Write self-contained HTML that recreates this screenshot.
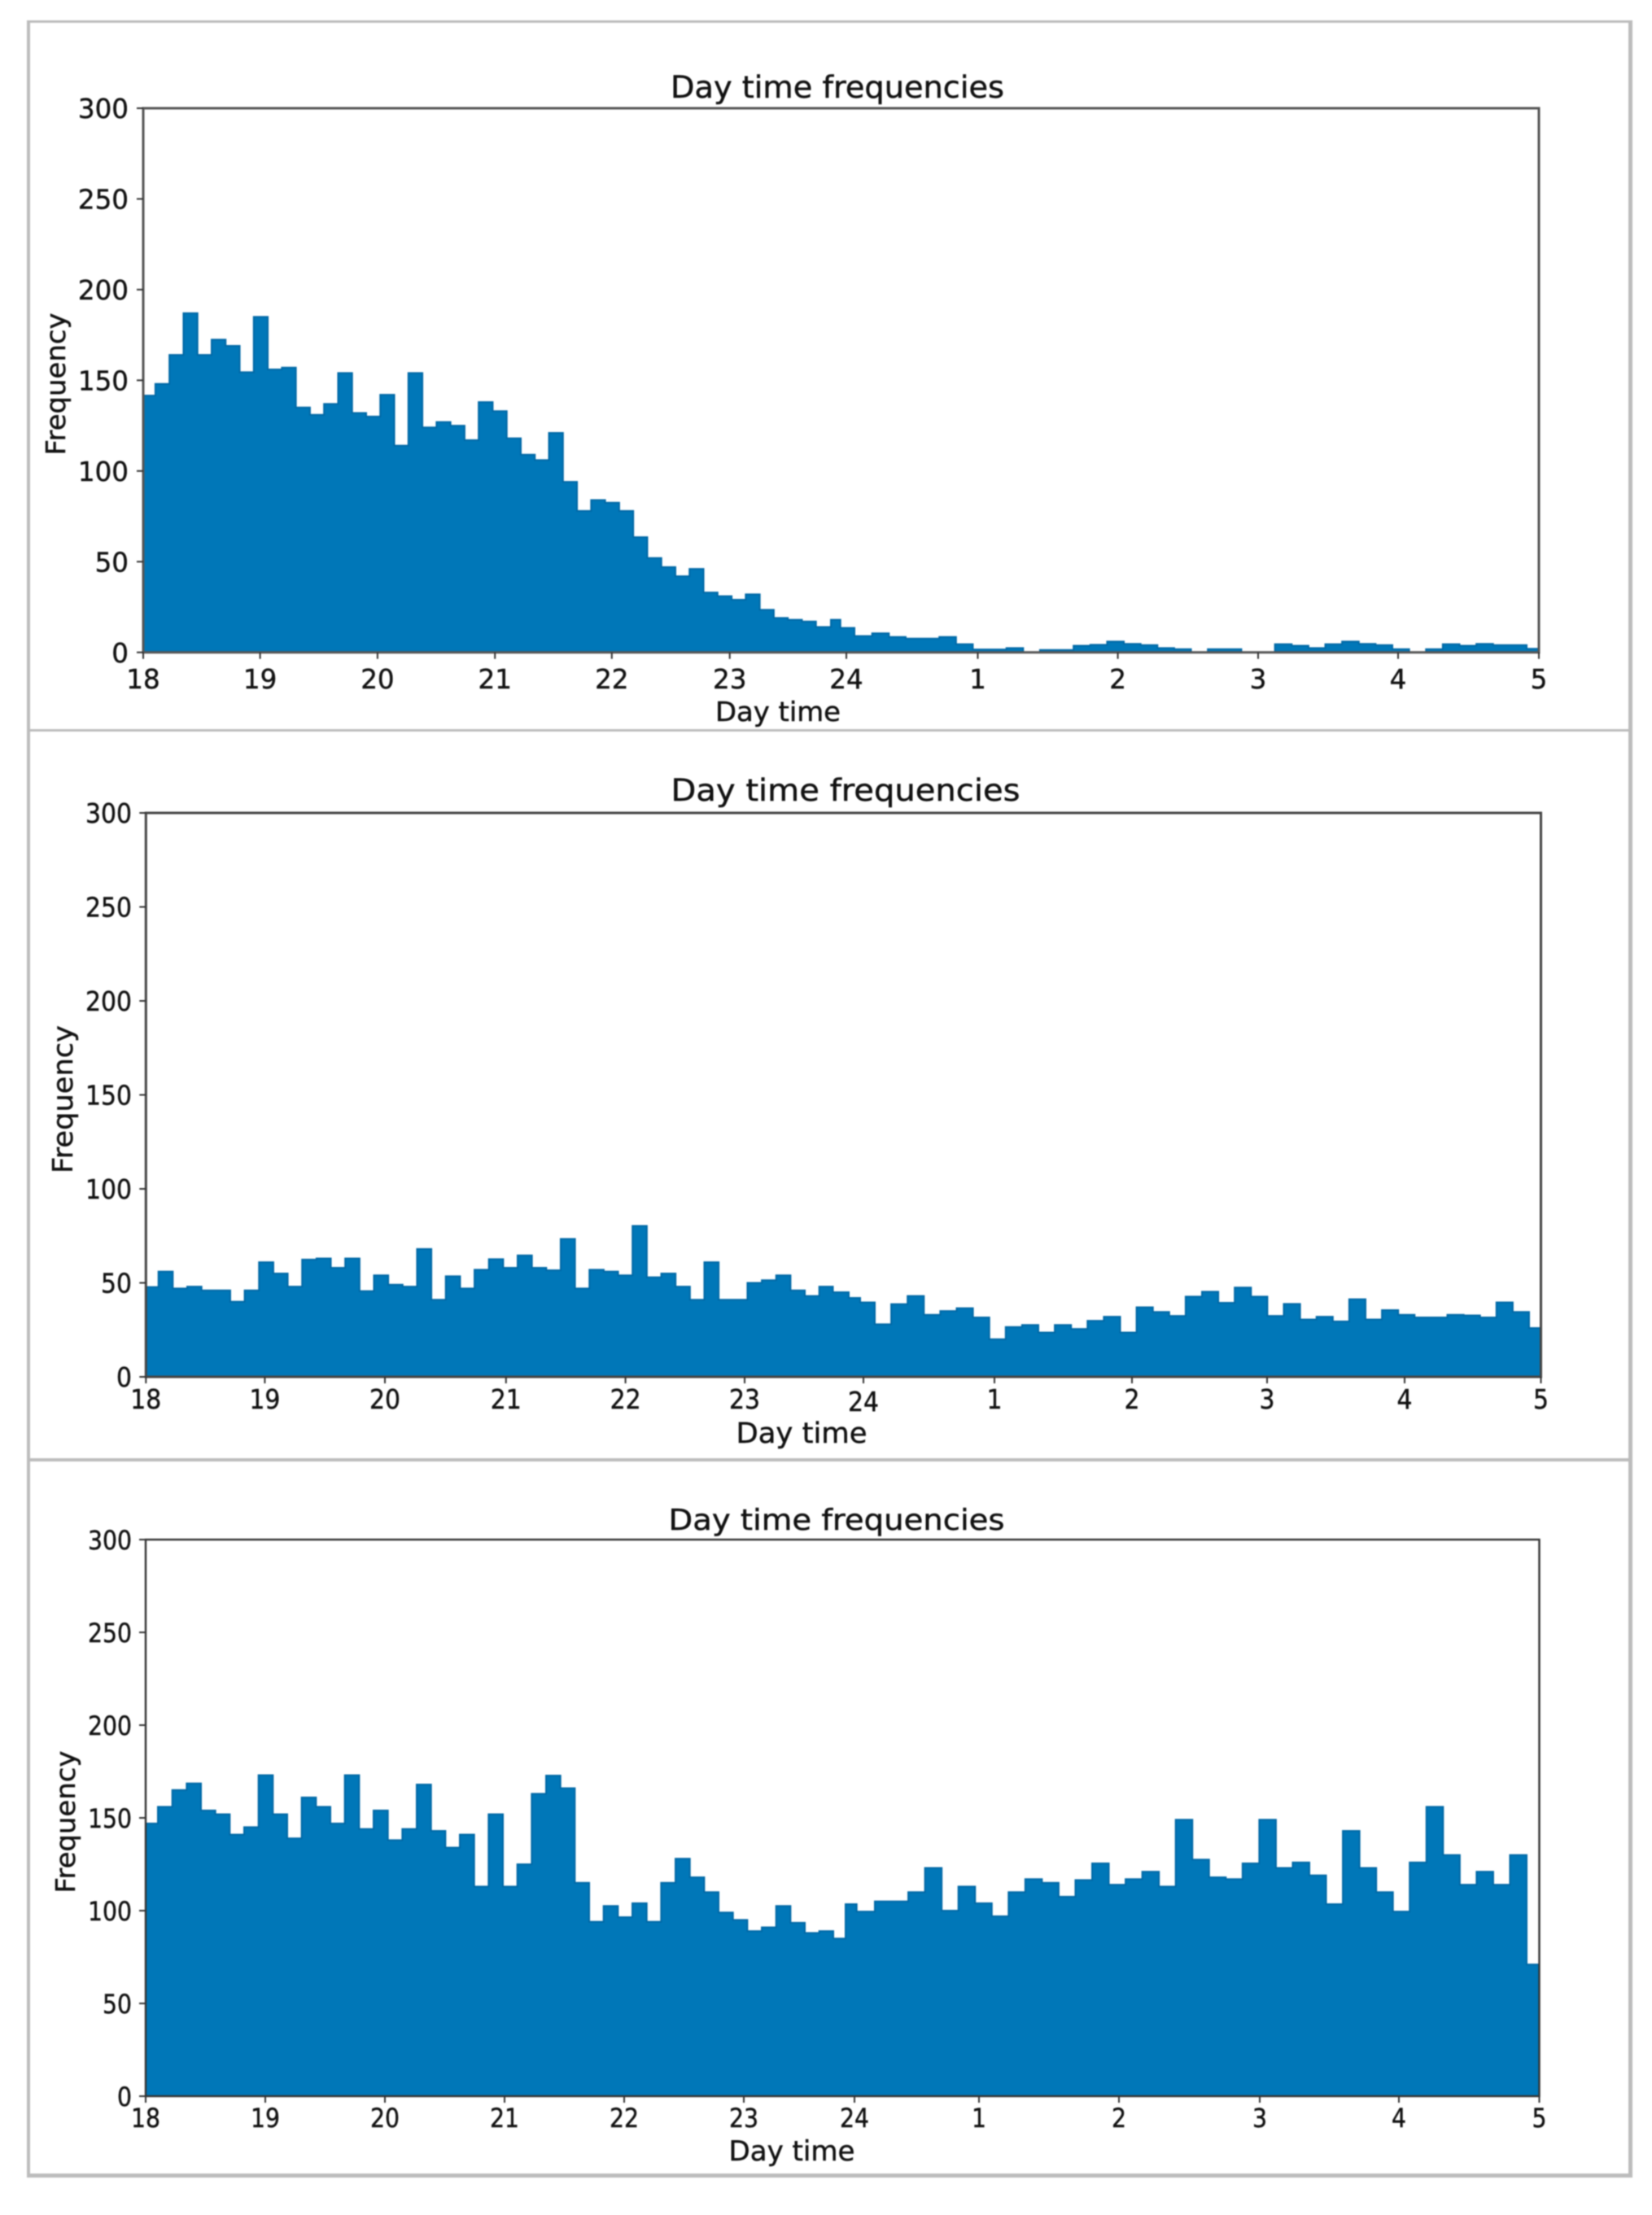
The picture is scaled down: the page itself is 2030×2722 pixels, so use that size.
<!DOCTYPE html>
<html lang="en">
<head>
<meta charset="utf-8">
<title>Day time frequencies</title>
<style>
  html, body { margin: 0; padding: 0; background: #fff; }
  body { width: 2030px; height: 2722px; overflow: hidden; }
  svg { display: block; filter: blur(0.7px); }
  text { font-family: "DejaVu Sans", "Liberation Sans", sans-serif; fill: #111; stroke: #111; stroke-width: 0.45px; }
</style>
</head>
<body>
<svg id="figure" xmlns="http://www.w3.org/2000/svg" width="2030" height="2722" viewBox="0 0 2030 2722">
  <rect x="0" y="0" width="2030" height="2722" fill="#fff"/>
  <g fill="#bcbcbc">
    <rect x="33" y="25" width="1973" height="3"/>
    <rect x="33" y="25" width="4" height="2651"/>
    <rect x="2001" y="25" width="5" height="2651"/>
    <rect x="33" y="2671" width="1973" height="5"/>
    <rect x="33" y="896" width="1973" height="3"/>
    <rect x="33" y="1792" width="1973" height="4"/>
  </g>

  <g id="panel-1">
    <g id="panel-1-marks"></g>
    <g id="panel-1-axes"></g>
    <text x="1029" y="120" font-size="37" text-anchor="middle" textLength="410" lengthAdjust="spacingAndGlyphs">Day time frequencies</text>
    <text x="956" y="886" font-size="33" text-anchor="middle" textLength="154" lengthAdjust="spacingAndGlyphs">Day time</text>
    <text transform="translate(80 472) rotate(-90)" font-size="33" text-anchor="middle" textLength="175" lengthAdjust="spacingAndGlyphs">Frequency</text>
  </g>

  <g id="panel-2">
    <g id="panel-2-marks"></g>
    <g id="panel-2-axes"></g>
    <text x="1039" y="984" font-size="37" text-anchor="middle" textLength="429" lengthAdjust="spacingAndGlyphs">Day time frequencies</text>
    <text x="985" y="1773" font-size="35" text-anchor="middle" textLength="161" lengthAdjust="spacingAndGlyphs">Day time</text>
    <text transform="translate(89 1351) rotate(-90)" font-size="34" text-anchor="middle" textLength="182" lengthAdjust="spacingAndGlyphs">Frequency</text>
  </g>

  <g id="panel-3">
    <g id="panel-3-marks"></g>
    <g id="panel-3-axes"></g>
    <text x="1028" y="1880" font-size="36" text-anchor="middle" textLength="413" lengthAdjust="spacingAndGlyphs">Day time frequencies</text>
    <text x="973" y="2655" font-size="34" text-anchor="middle" textLength="155" lengthAdjust="spacingAndGlyphs">Day time</text>
    <text transform="translate(92 2239) rotate(-90)" font-size="33" text-anchor="middle" textLength="175" lengthAdjust="spacingAndGlyphs">Frequency</text>
  </g>
</svg>

<script>
// Chart data.
const hourTicks = [18, 19, 20, 21, 22, 23, 24, 25, 26, 27, 28, 29];
const hourTickLabels = ["18", "19", "20", "21", "22", "23", "24", "1", "2", "3", "4", "5"];
const frequencyTicks = [0, 50, 100, 150, 200, 250, 300];

const topFrequencies = [
  141.6, 148, 164, 187, 164, 172.4, 169, 154.5, 185, 156, 157, 135, 131, 137, 154, 132,
  130, 142, 114, 154, 124, 127, 125, 117, 138, 133, 118, 109, 106, 121, 94, 78,
  84, 82.5, 78, 63.5, 52, 47, 42, 46, 33, 31, 29, 32, 23.5, 19, 18, 17,
  14, 18, 13.5, 9, 10.5, 8.5, 7.6, 7.6, 8.5, 4.5, 1.6, 1.6, 2.4, 0, 1.3, 1.3,
  3.7, 4.2, 6, 4.7, 4, 2.4, 1.8, 0, 1.8, 1.8, 0, 0, 4.5, 3.7, 2.4, 4.5,
  6, 4.7, 4, 1.8, 0, 1.8, 4.5, 3.7, 4.7, 4, 4, 2
];
const middleFrequencies = [
  47.8, 56, 47, 48, 46, 46, 40, 46, 61, 55, 48, 62.4, 63, 58, 63, 45.6,
  54, 49, 48, 68, 41, 53.5, 47, 57, 62.6, 58, 64.6, 58, 56.7, 73.4, 47, 57,
  56, 54, 80.3, 53, 55, 48, 41, 61, 41, 41, 50, 51.4, 54, 46, 43, 48,
  45, 42, 39.6, 28, 38.7, 43, 33, 35, 36.5, 31.6, 20, 26.5, 27.6, 23.6, 27.6, 25.5,
  29.8, 32, 23.6, 37, 34.5, 32.4, 42.7, 45.3, 39.4, 47.5, 42.7, 32.4, 38.8, 30.5, 32, 29.5,
  41.3, 30.5, 35.5, 33, 31.6, 31.6, 33, 32.7, 31.6, 39.6, 34.5, 26
];
const bottomFrequencies = [
  147, 156, 165, 168.6, 154, 152, 141, 145, 173, 152, 139, 161, 156, 147, 173, 144,
  154, 138, 144, 168, 143, 134, 141, 113, 152, 113, 125, 163, 172.8, 166, 115, 94,
  102.5, 96.5, 104, 94, 115, 128, 118, 110, 99, 95, 89, 91, 102.5, 93.5, 88, 89,
  85, 103.5, 99.5, 105, 105, 110, 123, 100, 113, 104, 97, 110, 117, 115, 107.5, 116.5,
  125.5, 114, 117, 121, 113, 149, 127.5, 118, 117, 125.5, 149, 123, 126, 119, 103.5, 143,
  123, 110, 99.5, 126, 156, 130, 114, 121, 114, 130, 71
];

// A piecewise-linear axis scale: the hand-assembled figure has unevenly spaced ticks and bins.
function piecewiseScale(domain, range) {
  return function (v) {
    let i = 0;
    while (i < domain.length - 2 && v > domain[i + 1]) i++;
    const t = (v - domain[i]) / (domain[i + 1] - domain[i]);
    return range[i] + t * (range[i + 1] - range[i]);
  };
}

function panelLayout(which) {
  if (which === 1) return {
    id: "top", values: topFrequencies, left: 176, right: 1891, top: 133, bottom: 801.7,
    hourScale: piecewiseScale(hourTicks, [176, 319.6, 463.9, 608.2, 751.8, 896.7, 1040, 1201.5, 1373.6, 1546, 1718, 1891]),
    binScale: piecewiseScale([0, 1, 48, 49, 50, 51, 52, 91, 92], [176, 190.9, 1002.7, 1021, 1032.7, 1050, 1071.7, 1876, 1891]),
    font: 33, digit: 20.7, yRight: 158, xBase: 846, axisWidth: 3, axisColor: "#555", labelShift: null
  };
  if (which === 2) return {
    id: "middle", values: middleFrequencies, left: 179.3, right: 1893.5, top: 999, bottom: 1692,
    hourScale: piecewiseScale(hourTicks, [179.3, 325.4, 473, 621.8, 768.6, 915, 1061, 1222, 1391, 1557, 1726, 1893.5]),
    binScale: piecewiseScale([0, 1, 47, 48, 49, 50, 51, 91, 92], [179.3, 194.7, 1006.7, 1023.5, 1043, 1057, 1075, 1879, 1893.5]),
    font: 33, digit: 19, yRight: 162, xBase: 1731, axisWidth: 3, axisColor: "#444", labelShift: "24"
  };
  return {
    id: "bottom", values: bottomFrequencies, left: 179, right: 1891.5, top: 1892, bottom: 2576,
    hourScale: piecewiseScale(hourTicks, [179, 326, 473, 620, 767, 914, 1050, 1203, 1375, 1548, 1719, 1891.5]),
    binScale: piecewiseScale([0, 1, 47, 48, 49, 50, 51, 90, 91], [179, 194, 1006.7, 1024, 1039, 1052.7, 1075, 1876, 1891.5]),
    font: 32, digit: 18, yRight: 162, xBase: 2614, axisWidth: 2.4, axisColor: "#333", labelShift: null
  };
}

const SVG_NS = "http://www.w3.org/2000/svg";

function drawPanel(which) {
  const p = panelLayout(which);
  const marks = document.getElementById("panel-" + which + "-marks");
  const axes = document.getElementById("panel-" + which + "-axes");
  const yScale = function (v) {
    return p.bottom + (v / 300) * (p.top - p.bottom);
  };

  // Bars plus a darker stepped outline along the top of the histogram.
  let outline = "M" + p.binScale(0) + " " + yScale(0);
  p.values.forEach(function (v, i) {
    const x0 = p.binScale(i);
    const x1 = p.binScale(i + 1);
    const bar = document.createElementNS(SVG_NS, "rect");
    
    
    bar.setAttribute("x", x0);
    bar.setAttribute("y", yScale(v));
    bar.setAttribute("width", x1 - x0 + 0.4);
    bar.setAttribute("height", yScale(0) - yScale(v));
    bar.setAttribute("fill", "#0077b8");
    marks.appendChild(bar);
    outline += "L" + x0 + " " + yScale(v) + "L" + x1 + " " + yScale(v);
  });
  outline += "L" + p.binScale(p.values.length) + " " + yScale(0);
  const step = document.createElementNS(SVG_NS, "path");
  
  
  step.setAttribute("d", outline);
  step.setAttribute("fill", "none");
  step.setAttribute("stroke", "#0068a6");
  step.setAttribute("stroke-width", "2");
  marks.appendChild(step);

  // Plot frame.
  const box = document.createElementNS(SVG_NS, "rect");
  
  
  box.setAttribute("x", p.left);
  box.setAttribute("y", p.top);
  box.setAttribute("width", p.right - p.left);
  box.setAttribute("height", p.bottom - p.top);
  box.setAttribute("fill", "none");
  box.setAttribute("stroke", p.axisColor);
  box.setAttribute("stroke-width", p.axisWidth);
  axes.appendChild(box);

  // X ticks and labels.
  hourTicks.forEach(function (h, i) {
    const x = p.hourScale(h);
    const tick = document.createElementNS(SVG_NS, "line");
    
    
    tick.setAttribute("x1", x);
    tick.setAttribute("x2", x);
    tick.setAttribute("y1", p.bottom);
    tick.setAttribute("y2", p.bottom + 8);
    tick.setAttribute("stroke", "#333");
    tick.setAttribute("stroke-width", "2");
    axes.appendChild(tick);

    const label = document.createElementNS(SVG_NS, "text");
    
    
    label.setAttribute("x", x);
    label.setAttribute("y", p.xBase + (hourTickLabels[i] === p.labelShift ? 3 : 0));
    label.setAttribute("font-size", p.font);
    label.setAttribute("text-anchor", "middle");
    label.setAttribute("textLength", p.digit * hourTickLabels[i].length);
    label.setAttribute("lengthAdjust", "spacingAndGlyphs");
    label.textContent = hourTickLabels[i];
    axes.appendChild(label);
  });

  // Y ticks and labels.
  frequencyTicks.forEach(function (f) {
    const y = yScale(f);
    const tick = document.createElementNS(SVG_NS, "line");
    
    
    tick.setAttribute("x1", p.left - 8);
    tick.setAttribute("x2", p.left);
    tick.setAttribute("y1", y);
    tick.setAttribute("y2", y);
    tick.setAttribute("stroke", "#333");
    tick.setAttribute("stroke-width", "2");
    axes.appendChild(tick);

    const label = document.createElementNS(SVG_NS, "text");
    
    
    label.setAttribute("x", p.yRight);
    label.setAttribute("y", y + p.font * 0.37);
    label.setAttribute("font-size", p.font);
    label.setAttribute("text-anchor", "end");
    label.setAttribute("textLength", p.digit * String(f).length);
    label.setAttribute("lengthAdjust", "spacingAndGlyphs");
    label.textContent = String(f);
    axes.appendChild(label);
  });
}

drawPanel(1);
drawPanel(2);
drawPanel(3);
</script>
</body>
</html>
